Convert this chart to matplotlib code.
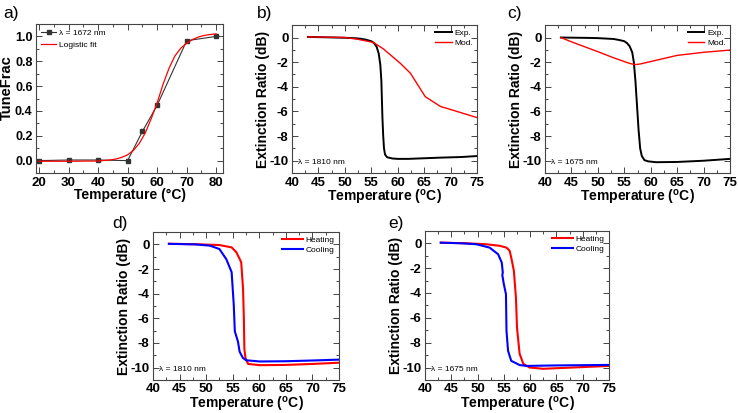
import matplotlib
matplotlib.use("Agg")
import matplotlib.pyplot as plt
from matplotlib.ticker import MultipleLocator

plt.rcParams["font.family"] = ["Liberation Sans", "DejaVu Sans"]
plt.rcParams["mathtext.fontset"] = "custom"
plt.rcParams["mathtext.rm"] = "Liberation Sans:bold"
plt.rcParams["axes.unicode_minus"] = False

# panel a: tune fraction vs temperature
temp_a = [20, 30, 40, 50, 55, 60, 70, 80]
frac_a = [0.0, 0.005, 0.005, 0.0, 0.235, 0.445, 0.965, 1.0]
fit_x = [20, 30, 40, 44, 46, 48, 50, 52, 54, 56, 58, 60, 62, 64, 66, 68, 70, 72, 74, 76, 78, 80]
fit_y = [-0.005, -0.005, -0.003, 0.005, 0.013, 0.026, 0.047, 0.083, 0.14, 0.224, 0.338,
         0.465, 0.614, 0.742, 0.842, 0.905, 0.945, 0.975, 0.995, 1.008, 1.015, 1.02]

# panel b: 1810 nm, experiment vs model
exp_b_x = [43, 45, 48, 50, 52, 53, 54, 55, 55.5, 56, 56.4, 56.7, 56.9, 57.0, 57.1, 57.25,
           57.4, 57.6, 58, 59, 60, 62, 65, 68, 72, 75]
exp_b_y = [0.05, 0.03, 0.0, -0.02, -0.06, -0.1, -0.18, -0.3, -0.45, -0.75, -1.3, -2.2, -3.5,
           -5.0, -6.5, -8.0, -9.0, -9.5, -9.72, -9.82, -9.85, -9.85, -9.8, -9.75, -9.7, -9.62]
mod_b_x = [43, 46, 50, 52.3, 55.4, 57.3, 60.5, 62.4, 65.2, 68.1, 69.3, 75]
mod_b_y = [0.05, 0.03, 0.0, -0.13, -0.4, -0.93, -2.1, -2.9, -4.8, -5.6, -5.75, -6.5]

# panel c: 1675 nm, experiment vs model
exp_c_x = [43, 48, 50, 53, 54, 55, 55.5, 56, 56.5, 56.8, 57.1, 57.4, 57.7, 58, 58.3, 58.8,
           59.5, 61, 65, 70, 75]
exp_c_y = [0.0, -0.03, -0.05, -0.12, -0.2, -0.3, -0.45, -0.7, -1.2, -2.0, -3.5, -5.5, -7.5,
           -9.0, -9.6, -9.95, -10.05, -10.12, -10.1, -10.0, -9.85]
mod_c_x = [43, 45, 50, 53, 55, 56, 57, 58, 60, 62, 65, 68, 70, 75]
mod_c_y = [0.0, -0.35, -1.15, -1.65, -1.95, -2.1, -2.2, -2.15, -1.95, -1.75, -1.45, -1.3,
           -1.2, -1.02]

# panel d: 1810 nm heating / cooling
heat_d_x = [43, 48, 52.5, 54.8, 55.7, 56.6, 56.95, 57.1, 57.2, 57.4, 57.9, 60.1, 65, 70, 75]
heat_d_y = [0.05, 0.02, -0.05, -0.24, -0.64, -1.44, -3.6, -6.0, -8.5, -9.2, -9.7, -9.8,
            -9.78, -9.7, -9.6]
cool_d_x = [43, 48, 50.7, 52.5, 53.8, 54.8, 55.2, 55.4, 56.0, 56.3, 56.9, 57.5, 60.1, 65,
            70, 75]
cool_d_y = [0.05, 0.0, -0.1, -0.37, -1.2, -2.25, -4.9, -7.05, -7.9, -8.7, -9.2, -9.4, -9.5,
            -9.48, -9.42, -9.35]

# panel e: 1675 nm heating / cooling
heat_e_x = [43, 48, 51.7, 54.2, 55.5, 56.1, 56.4, 56.9, 57.3, 57.5, 58.0, 58.7, 59.9, 62.5,
            68, 75]
heat_e_y = [0.05, 0.0, -0.08, -0.2, -0.35, -0.6, -1.15, -2.2, -4.4, -6.8, -8.9, -9.7, -10.0,
            -10.1, -10.0, -9.87]
cool_e_x = [43, 47, 49.8, 52.3, 53.9, 54.6, 54.8, 54.7, 55.0, 55.4, 55.5, 55.8, 56.4, 58.0,
            59.3, 65, 75]
cool_e_y = [0.05, 0.0, -0.08, -0.35, -0.88, -1.55, -2.36, -2.55, -3.3, -4.1, -7.05, -8.66,
            -9.46, -9.8, -9.87, -9.83, -9.79]

fig = plt.figure(figsize=(7.38, 4.13), dpi=100)
ax_a = fig.add_axes([0.0488, 0.581, 0.2534, 0.361])
ax_b = fig.add_axes([0.3957, 0.581, 0.2507, 0.358])
ax_c = fig.add_axes([0.7385, 0.581, 0.2507, 0.358])
ax_d = fig.add_axes([0.2073, 0.080, 0.2520, 0.358])
ax_e = fig.add_axes([0.5759, 0.080, 0.2493, 0.361])


def style(ax, xmaj, xmin, ymaj, ymin):
    ax.xaxis.set_major_locator(MultipleLocator(xmaj))
    ax.xaxis.set_minor_locator(MultipleLocator(xmin))
    ax.yaxis.set_major_locator(MultipleLocator(ymaj))
    ax.yaxis.set_minor_locator(MultipleLocator(ymin))
    ax.tick_params(which="both", direction="in", top=True, right=True, width=0.7,
                   color="#444444")
    ax.tick_params(which="major", length=4, labelsize=9.5, pad=2.5)
    ax.tick_params(which="minor", length=2)
    for lab in ax.get_xticklabels() + ax.get_yticklabels():
        lab.set_fontweight("bold")
    for sp in ax.spines.values():
        sp.set_linewidth(0.8)
        sp.set_color("#444444")


lab_font = dict(fontsize=10, fontweight="bold", labelpad=-0.5)
temp_lab = r"Temperature ($^{\mathrm{o}}$C)"

# a
ax_a.plot(temp_a, frac_a, color="#333333", marker="s", markersize=3.2, lw=0.8,
          label="λ = 1672 nm")
ax_a.plot(fit_x, fit_y, color="red", lw=0.9, label="Logistic fit")
ax_a.set_xlim(19, 82.3)
ax_a.set_ylim(-0.1, 1.1)
style(ax_a, 10, 5, 0.2, 0.1)
ax_a.tick_params(axis="y", which="major", labelsize=9)
ax_a.set_xlabel("Temperature (°C)", **lab_font)
ax_a.set_ylabel("TuneFrac", fontsize=10.5, fontweight="bold")
ax_a.yaxis.set_label_coords(-0.12, 0.57)
ax_a.legend(loc="upper left", fontsize=6, frameon=False, handlelength=1.8,
            handletextpad=0.4, borderaxespad=0.2, labelspacing=0.5)

# b and c
for ax, ex, ey, mx, my, wl in [(ax_b, exp_b_x, exp_b_y, mod_b_x, mod_b_y, "λ = 1810 nm"),
                               (ax_c, exp_c_x, exp_c_y, mod_c_x, mod_c_y, "λ = 1675 nm")]:
    ax.plot(ex, ey, color="black", lw=1.4, label="Exp.")
    ax.plot(mx, my, color="red", lw=1.0, label="Mod.")
    ax.set_xlim(40, 75)
    ax.set_ylim(-11, 1)
    style(ax, 5, 2.5, 2, 1)
    ax.set_xlabel(temp_lab, **lab_font)
    ax.set_ylabel("Extinction Ratio (dB)", **lab_font)
    ax.legend(loc="upper right", fontsize=6, frameon=False, handlelength=2,
              handletextpad=0.3, borderaxespad=0.1, labelspacing=0.25)
    ax.text(0.03, 0.06, wl, transform=ax.transAxes, fontsize=6)

# d and e
for ax, hx, hy, cx, cy, wl in [(ax_d, heat_d_x, heat_d_y, cool_d_x, cool_d_y, "λ = 1810 nm"),
                               (ax_e, heat_e_x, heat_e_y, cool_e_x, cool_e_y, "λ = 1675 nm")]:
    ax.plot(hx, hy, color="red", lw=1.5, label="Heating")
    ax.plot(cx, cy, color="blue", lw=1.5, label="Cooling")
    ax.set_xlim(40, 75)
    ax.set_ylim(-11, 1)
    style(ax, 5, 2.5, 2, 1)
    ax.set_xlabel(temp_lab, **lab_font)
    ax.set_ylabel("Extinction Ratio (dB)", **lab_font)
    ax.legend(loc="upper right", fontsize=6, frameon=False, handlelength=2.6,
              handletextpad=0.3, borderaxespad=0.1, labelspacing=0.25)
    ax.text(0.03, 0.06, wl, transform=ax.transAxes, fontsize=6)

# panel letters
for x, y, s in [(0.004, 0.968, "a)"), (0.348, 0.968, "b)"), (0.687, 0.968, "c)"),
                (0.152, 0.46, "d)"), (0.526, 0.46, "e)")]:
    fig.text(x, y, s, fontsize=12.5, va="center")

fig.savefig("out.png", dpi=100)
